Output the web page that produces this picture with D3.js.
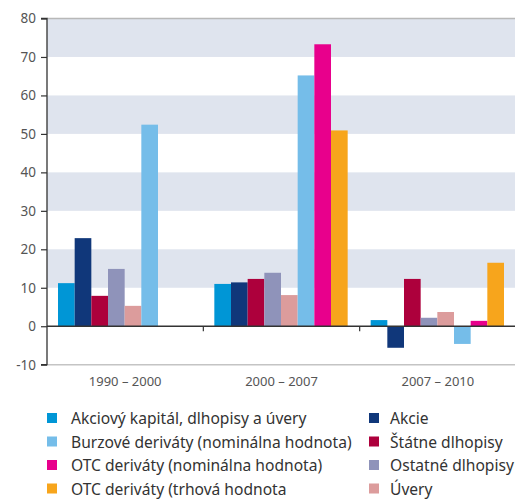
<!DOCTYPE html>
<html><head><meta charset="utf-8">
<script src="https://cdn.jsdelivr.net/npm/d3@7"></script>
<style>body{margin:0;background:#fff}svg{display:block}</style>
</head><body><svg id="c" width="515" height="499"></svg>
<script>
const categories = ["1990 – 2000", "2000 – 2007", "2007 – 2010"];
const seriesNames = ["Akciový kapitál, dlhopisy a úvery", "Akcie", "Štátne dlhopisy", "Ostatné dlhopisy", "Úvery", "Burzové deriváty (nominálna hodnota)", "OTC deriváty (nominálna hodnota)", "OTC deriváty (trhová hodnota"];
const seriesColors = ["#0096d6", "#10377a", "#ad003c", "#8f93ba", "#dc9c9c", "#75bde9", "#e8008c", "#f7a51c"];
const akciovy = [11.2, 11.0, 1.6];
const akcie = [22.9, 11.4, -5.6];
const statne = [7.9, 12.3, 12.3];
const ostatne = [14.9, 13.9, 2.2];
const uvery = [5.3, 8.1, 3.7];
const burzove = [52.4, 65.2, -4.6];
const otcNom = [null, 73.3, 1.4];
const otcTrh = [null, 50.9, 16.5];
const seriesValues = [akciovy, akcie, statne, ostatne, uvery, burzove, otcNom, otcTrh];
const yTicks = [-10, 0, 10, 20, 30, 40, 50, 60, 70, 80];
const legendLeft = [0, 5, 6, 7];
const legendRight = [1, 2, 3, 4];

(function () {
const svg = d3.select("#c");
const pL = 47, pR = 515, pT = 18.5, pB = 364.7;
const y = d3.scaleLinear().domain([-10, 80]).range([pB, pT]);
const x0 = d3.scaleBand().domain(categories).range([pL, pR + 1]).padding(0);
const x1 = d3.scaleBand().domain(d3.range(seriesNames.length)).range([11, x0.bandwidth() - 12]).padding(0);

const bands = [[70, 80], [50, 60], [30, 40], [10, 20]];
svg.append("g").selectAll("rect").data(bands).join("rect")
  .attr("x", pL).attr("width", pR - pL)
  .attr("y", d => y(d[1])).attr("height", d => y(d[0]) - y(d[1]))
  .attr("fill", "#dfe4ee");

svg.append("line").attr("x1", pL).attr("x2", pR).attr("y1", y(80)).attr("y2", y(80)).attr("stroke", "#b8b8b8").attr("stroke-width", 1.5);
svg.append("line").attr("x1", pL).attr("x2", pR).attr("y1", y(-10)).attr("y2", y(-10)).attr("stroke", "#c4c4c4").attr("stroke-width", 1.5);

const groups = svg.append("g").selectAll("g").data(categories).join("g")
  .attr("transform", d => `translate(${x0(d)},0)`);
groups.selectAll("rect").data((c, ci) => seriesValues.map((s, si) => ({ si, v: s[ci] })).filter(d => d.v !== null))
  .join("rect")
  .attr("x", d => x1(d.si)).attr("width", x1.bandwidth())
  .attr("y", d => y(Math.max(0, d.v))).attr("height", d => Math.abs(y(d.v) - y(0)))
  .attr("fill", d => seriesColors[d.si]);

svg.append("line").attr("x1", pL).attr("x2", pR).attr("y1", y(0)).attr("y2", y(0)).attr("stroke", "#333").attr("stroke-width", 1.3);
svg.append("g").selectAll("line").data(categories.slice(1)).join("line")
  .attr("x1", d => x0(d)).attr("x2", d => x0(d)).attr("y1", y(0)).attr("y2", y(0) + 5)
  .attr("stroke", "#333").attr("stroke-width", 1.2);

const yAxis = d3.axisLeft(y).tickValues(yTicks).tickSize(6).tickPadding(5).tickFormat(d => String(d));
const ya = svg.append("g").attr("transform", `translate(${pL},0)`).call(yAxis);
ya.select(".domain").attr("stroke", "#333").attr("stroke-width", 1.3).attr("d", `M-6,${y(80)}H0V${y(-10)}H-6`);
ya.selectAll(".tick line").attr("stroke", "#333").attr("stroke-width", 1.2);
ya.selectAll(".tick text").attr("fill", "#555").style("font", "13.5px 'Noto Sans'");

svg.append("g").selectAll("text").data(categories).join("text")
  .attr("x", d => x0(d) + x0.bandwidth() / 2).attr("y", 386)
  .attr("text-anchor", "middle").attr("fill", "#555").style("font", "13px 'Noto Sans'")
  .text(d => d);

const rowY = [424, 447.5, 471, 494.5];
function legendCol(idx, sx, tx) {
  const g = svg.append("g");
  idx.forEach((si, r) => {
    g.append("rect").attr("x", sx).attr("y", rowY[r] - 11).attr("width", 10).attr("height", 10).attr("fill", seriesColors[si]);
    g.append("text").attr("x", tx).attr("y", rowY[r]).attr("fill", "#333").style("font", "15.6px 'Noto Sans'").text(seriesNames[si]);
  });
}
legendCol(legendLeft, 47, 71);
legendCol(legendRight, 369, 390);
})();
</script></body></html>
